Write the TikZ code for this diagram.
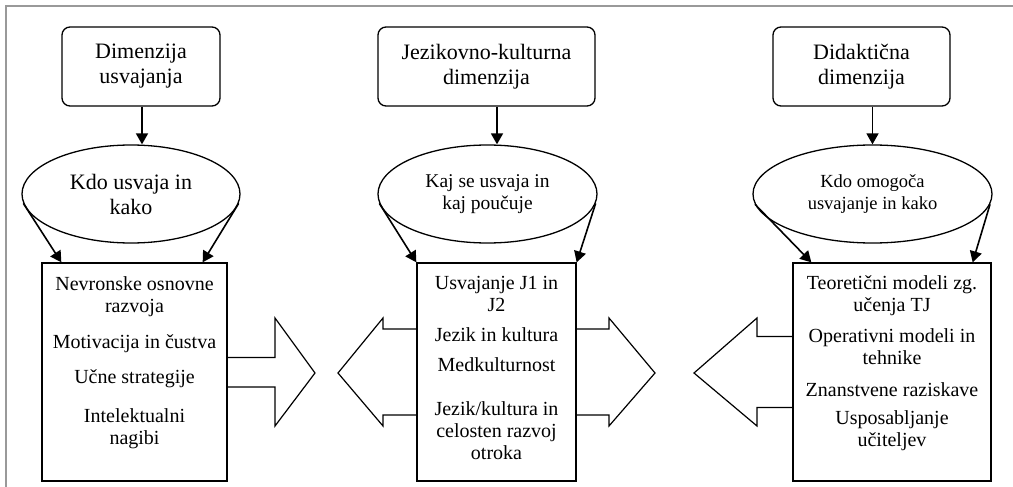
\documentclass[tikz,border=0pt]{standalone}
\usepackage{fontspec}
\setmainfont{Liberation Serif}
\usepackage{tikz}
\usetikzlibrary{arrows.meta}
\usetikzlibrary{calc, positioning, shapes.geometric}
\tikzstyle{dimbox}=[rectangle, draw, rounded corners=8pt, minimum height=79pt, inner sep=0pt, align=center, font=\fontsize{22pt}{25pt}\selectfont]
\tikzstyle{oval}=[ellipse, draw, minimum height=98pt, inner sep=0pt, align=center, font=\fontsize{22pt}{25pt}\selectfont]
\tikzstyle{listbox}=[rectangle, draw, fill=white, minimum height=218pt, inner sep=0pt]
\tikzstyle{items}=[inner sep=0pt, align=center, font=\fontsize{20pt}{22pt}\selectfont]
\tikzstyle{fat}=[draw, fill=white, line width=1.2pt, line join=miter]

\begin{document}
\begin{tikzpicture}[x=1pt, y=-1pt]
\tikzset{>={Triangle[length=11pt, width=12pt]}}

%  all lines
\tikzset{every path/.style={line width=1.3pt}}

\useasboundingbox (0,0) rectangle (1013,487);

% frame
\draw[black!40, line width=1.5pt] (6,487) -- (6,6) -- (1013,6);

% dimensions
\node[dimbox, minimum width=158pt] (dim1) at (141,66.5) {Dimenzija\\usvajanja};
\node[dimbox, minimum width=217pt] (dim2) at (486.5,66.5) {Jezikovno-kulturna\\dimenzija};
\node[dimbox, minimum width=177pt] (dim3) at (861.5,66.5) {Didaktična\\dimenzija};

% questions
\node[oval, minimum width=218pt] (oval1) at (131,194) {Kdo usvaja in\\kako};
\node[oval, minimum width=219pt, font=\fontsize{19.5pt}{22pt}\selectfont] (oval2) at (487.5,194) {Kaj se usvaja in\\kaj poučuje};
\node[oval, minimum width=239pt, font=\fontsize{18.5pt}{21.5pt}\selectfont] (oval3) at (872.5,194) {Kdo omogoča\\usvajanje in kako};

\draw[->, line width=1.7pt] ([xshift=1pt]dim1.south) -- ([xshift=1pt]dim1.south |- oval1.north);
\draw[->, line width=1.7pt] ([xshift=10.5pt]dim2.south) -- ([xshift=10.5pt]dim2.south |- oval2.north);
\draw[->, line width=1.7pt] (oval3.north |- dim3.south) -- (oval3.north);

% block arrows
\coordinate (s1) at (227,357.5);
\coordinate (s2l) at (417,329);
\coordinate (s2r) at (576,329);
\coordinate (s3) at (793,336.5);
\draw[fat] (s1) -- ++(48,0) -- ++(0,-39.5) -- ++(40,55) -- ++(-40,53) -- ++(0,-39) -- ++(-48,0);
\draw[fat] (s2l) -- ++(-34,0) -- ++(0,-11) -- ++(-45,55) -- ++(45,53) -- ++(0,-11) -- ++(34,0);
\draw[fat] (s2r) -- ++(33,0) -- ++(0,-11) -- ++(46,55) -- ++(-46,53) -- ++(0,-11) -- ++(-33,0);
\draw[fat] (s3) -- ++(-36,0) -- ++(0,-18.5) -- ++(-63,55) -- ++(63,53) -- ++(0,-18.5) -- ++(36,0);

% lists
\node[listbox, minimum width=185pt] (r1) at (134.5,372) {};
\node[listbox, minimum width=159pt] (r2) at (496.5,372) {};
\node[listbox, minimum width=198pt] (r3) at (892,372) {};

\node[items, below=14pt of r1.north] (t1) {Nevronske osnovne\\razvoja\\[14pt]Motivacija in čustva\\[13pt]Učne strategije\\[17pt]Intelektualni\\nagibi};
\node[items, below=13pt of r2.north] (t2) {Usvajanje J1 in\\J2\\[8pt]Jezik in kultura\\[8pt]Medkulturnost\\[22pt]Jezik/kultura in\\celosten razvoj\\otroka};
\node[items, below=13pt of r3.north] (t3) {Teoretični modeli zg.\\učenja TJ\\[9pt]Operativni modeli in\\tehnike\\[10pt]Znanstvene raziskave\\[6pt]Usposabljanje\\učiteljev};

\draw[->, line width=1.6pt] (oval1.185) -- ([xshift=20pt]r1.north west);
\draw[->, line width=1.6pt] (oval1.-5) -- ([xshift=-25pt]r1.north east);
\draw[->, line width=1.6pt] (oval2.185) -- (r2.north west);
\draw[->, line width=1.6pt] (oval2.-5) -- (r2.north east);
\draw[->, line width=1.6pt] (oval3.185) -- ([xshift=19pt]r3.north west);
\draw[->, line width=1.6pt] (oval3.-5) -- ([xshift=-19pt]r3.north east);

\end{tikzpicture}
\end{document}
